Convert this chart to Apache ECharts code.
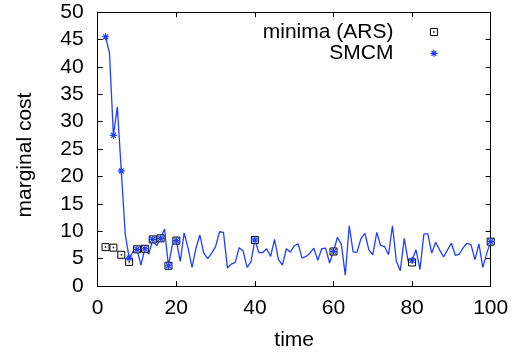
<!DOCTYPE html>
<html><head><meta charset="utf-8">
<script src="https://cdn.jsdelivr.net/npm/echarts@6/dist/echarts.min.js"></script>
<style>html,body{margin:0;padding:0;background:#fff}#c{width:520px;height:356px}</style>
</head><body><div id="c"></div>
<script>
// time series (every step, starting at t = 2)
const lineStart = 2;
const lineValues = [
  45.5, 42.5, 27.5, 32.7, 21.0, 9.5, 5.1, 6.3, 6.7,            // 2-10
  3.8, 6.8, 5.8, 8.5, 7.3, 8.7, 10.4, 3.7, 7.5, 8.3,            // 11-20
  4.5, 9.7, 6.9, 3.4, 6.9, 9.3, 6.0, 5.0, 6.0, 7.2,             // 21-30
  9.9, 9.8, 3.3, 4.0, 4.3, 7.0, 6.4, 3.4, 4.4, 8.4,             // 31-40
  6.1, 6.1, 6.8, 5.4, 8.5, 4.8, 3.8, 6.8, 6.2, 7.3,             // 41-50
  7.7, 5.1, 5.4, 6.0, 6.9, 4.7, 6.8, 6.9, 4.2, 6.3,             // 51-60
  8.9, 7.6, 2.0, 11.0, 6.2, 6.2, 8.7, 9.6, 6.6, 5.7,            // 61-70
  9.8, 7.4, 7.2, 5.7, 11.0, 4.5, 2.8, 8.7, 4.5, 4.7,            // 71-80
  6.6, 3.0, 9.5, 9.5, 6.0, 8.0, 6.6, 5.3, 6.6, 7.8,             // 81-90
  5.6, 5.8, 7.0, 7.8, 7.5, 4.8, 7.7, 3.4, 6.0, 8.1              // 91-100
];
const markerTimes = [2, 4, 6, 8, 10, 12, 14, 16, 18, 20, 40, 60, 80, 100];
const arsValues   = [7.1, 7.0, 5.7, 4.4, 6.7, 6.8, 8.5, 8.7, 3.7, 8.3, 8.4, 6.3, 4.3, 8.1];
const smcmValues  = [45.5, 27.5, 21.0, 5.1, 6.7, 6.8, 8.5, 8.7, 3.7, 8.3, 8.4, 6.3, 4.7, 8.1];
const xTickLabels = [0, 20, 40, 60, 80, 100];
const yTickLabels = [0, 5, 10, 15, 20, 25, 30, 35, 40, 45, 50];
const seriesNames = ['minima (ARS)', 'SMCM'];

const blue = '#1f3fff';
const FONT = 'Liberation Sans, Arial, Helvetica, sans-serif';
const squareSym = 'path://M0,0H10V10H0Z M4.5,4.5H5.5V5.5H4.5Z';
const starSym = 'path://M5,0V10M0,5H10M1.5,1.5L8.5,8.5M8.5,1.5L1.5,8.5';

const lineData = lineValues.map((v, i) => [lineStart + i, v]);
const arsData = markerTimes.map((t, i) => [t, arsValues[i]]);
const smcmData = markerTimes.map((t, i) => [t, smcmValues[i]]);

const axisCommon = {
  type: 'value',
  axisLine: { show: true, onZero: false, lineStyle: { color: '#000', width: 1 } },
  axisTick: { show: true, inside: true, length: 5, lineStyle: { color: '#000', width: 1 } },
  splitLine: { show: false }
};

const chart = echarts.init(document.getElementById('c'), null, { renderer: 'canvas' });
chart.setOption({
  animation: false,
  backgroundColor: '#fff',
  grid: { left: 97.7, right: 29.3, top: 12.1, bottom: 65.9, containLabel: false },
  xAxis: [
    Object.assign({}, axisCommon, {
      position: 'bottom', min: xTickLabels[0], max: xTickLabels[xTickLabels.length - 1], interval: 20,
      axisLabel: { color: '#000', fontSize: 21, fontFamily: FONT, margin: 12 },
      name: 'time', nameLocation: 'middle', nameGap: 44,
      nameTextStyle: { color: '#000', fontSize: 21, fontFamily: FONT }
    }),
    Object.assign({}, axisCommon, {
      position: 'top', min: 0, max: 100, interval: 20, axisLabel: { show: false }
    })
  ],
  yAxis: [
    Object.assign({}, axisCommon, {
      position: 'left', min: yTickLabels[0], max: yTickLabels[yTickLabels.length - 1], interval: 5,
      axisLabel: { color: '#000', fontSize: 21, fontFamily: FONT, margin: 14 },
      name: 'marginal cost', nameLocation: 'middle', nameGap: 62,
      nameTextStyle: { color: '#000', fontSize: 21, fontFamily: FONT, padding: [0, 12, 0, 0] }
    }),
    Object.assign({}, axisCommon, {
      position: 'right', min: 0, max: 50, interval: 5, axisLabel: { show: false }
    })
  ],
  legend: {
    data: [
      { name: seriesNames[0], icon: squareSym,
        itemStyle: { color: '#fff', borderColor: '#000', borderWidth: 1 } },
      { name: seriesNames[1], icon: starSym,
        itemStyle: { color: 'rgba(0,0,0,0)', borderColor: blue, borderWidth: 1.2 } }
    ],
    orient: 'vertical',
    align: 'right',
    right: 77,
    top: 16.5,
    itemWidth: 7,
    itemHeight: 7,
    itemGap: 0.3,
    selectedMode: false,
    textStyle: { color: '#000', fontSize: 21, fontFamily: FONT, lineHeight: 21, padding: [0, 32, 0, 0] }
  },
  series: [
    {
      type: 'line', name: 'series', data: lineData, showSymbol: false, symbol: 'none',
      lineStyle: { color: blue, width: 1.3 }, itemStyle: { color: blue }, z: 2
    },
    {
      type: 'scatter', name: seriesNames[0], data: arsData, symbol: squareSym, symbolSize: 7,
      itemStyle: { color: '#fff', borderColor: '#000', borderWidth: 1, opacity: 1 }, z: 3
    },
    {
      type: 'scatter', name: seriesNames[1], data: smcmData, symbol: starSym, symbolSize: 7,
      itemStyle: { color: 'rgba(0,0,0,0)', borderColor: blue, borderWidth: 1.2, opacity: 1 }, z: 4
    }
  ]
});
</script></body></html>
